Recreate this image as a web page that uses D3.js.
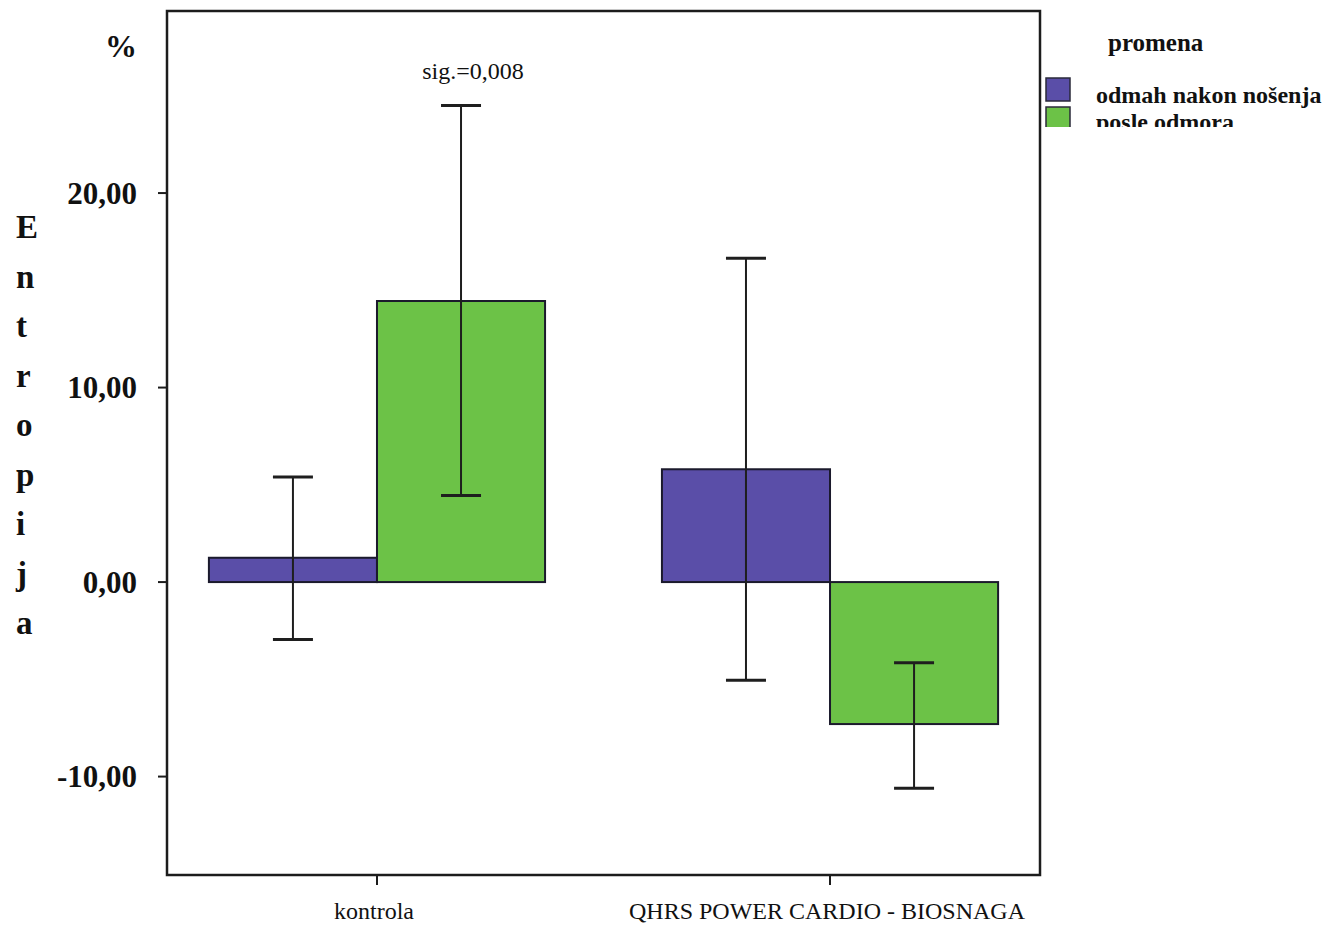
<!DOCTYPE html>
<html>
<head>
<meta charset="utf-8">
<script src="https://cdn.jsdelivr.net/npm/d3@7/dist/d3.min.js"></script>
<style>
  html, body { margin: 0; padding: 0; background: #fff; }
  svg { display: block; }
  text { font-family: "Liberation Serif", "Times New Roman", serif; fill: #111; }
</style>
</head>
<body>
<svg id="chart" width="1338" height="926"></svg>
<script>
// Group labels along the x axis
const categories = ["kontrola", "QHRS POWER CARDIO - BIOSNAGA"];
// Legend entries (measurement moment)
const seriesNames = ["odmah nakon nošenja", "posle odmora"];
const seriesColors = ["#5a4ea8", "#6cc247"];

// Mean change of entropy (%) per group, per measurement moment
const meanImmediate = [1.25, 5.8];
const meanAfterRest = [14.45, -7.3];

// 95% confidence interval bounds
const ciLowImmediate = [-2.95, -5.05];
const ciHighImmediate = [5.4, 16.65];
const ciLowAfterRest = [4.45, -10.6];
const ciHighAfterRest = [24.5, -4.15];

// Value axis
const yTicks = [-10, 0, 10, 20];
const yTickLabels = ["-10,00", "0,00", "10,00", "20,00"];
const yDomain = [-15.06, 29.36];

const sigLabel = "sig.=0,008";
const axisTitle = "Entropija";
const unitLabel = "%";
const legendTitle = "promena";

// ---- layout ----
const svg = d3.select("#chart");
const plot = { left: 167, right: 1040, top: 11, bottom: 875 };

const y = d3.scaleLinear().domain(yDomain).range([plot.bottom, plot.top]);
const x0 = d3.scaleBand().domain(categories)
  .range([plot.left, plot.right])
  .paddingInner(0.258).paddingOuter(0.0925);
const x1 = d3.scaleBand().domain(seriesNames).range([0, x0.bandwidth()]).padding(0);

const rows = [];
categories.forEach((c, i) => {
  rows.push({ cat: c, series: seriesNames[0], color: seriesColors[0], v: meanImmediate[i], lo: ciLowImmediate[i], hi: ciHighImmediate[i] });
  rows.push({ cat: c, series: seriesNames[1], color: seriesColors[1], v: meanAfterRest[i], lo: ciLowAfterRest[i], hi: ciHighAfterRest[i] });
});

// bars
svg.append("g").selectAll("rect").data(rows).join("rect")
  .attr("x", d => x0(d.cat) + x1(d.series))
  .attr("y", d => Math.min(y(d.v), y(0)))
  .attr("width", x1.bandwidth())
  .attr("height", d => Math.abs(y(d.v) - y(0)))
  .attr("fill", d => d.color)
  .attr("stroke", "#1b1a2c")
  .attr("stroke-width", 2);

// error bars
const capHalf = 20;
const eb = svg.append("g").attr("stroke", "#1e1e1e");
rows.forEach(d => {
  const cx = x0(d.cat) + x1(d.series) + x1.bandwidth() / 2;
  eb.append("line").attr("x1", cx).attr("x2", cx).attr("y1", y(d.hi)).attr("y2", y(d.lo)).attr("stroke-width", 2);
  eb.append("line").attr("x1", cx - capHalf).attr("x2", cx + capHalf).attr("y1", y(d.hi)).attr("y2", y(d.hi)).attr("stroke-width", 3);
  eb.append("line").attr("x1", cx - capHalf).attr("x2", cx + capHalf).attr("y1", y(d.lo)).attr("y2", y(d.lo)).attr("stroke-width", 3);
});

// frame
svg.append("rect")
  .attr("x", plot.left).attr("y", plot.top)
  .attr("width", plot.right - plot.left).attr("height", plot.bottom - plot.top)
  .attr("fill", "none").attr("stroke", "#1c1c1c").attr("stroke-width", 2.5);

// y axis ticks and labels
const yAxis = svg.append("g");
yTicks.forEach((t, i) => {
  yAxis.append("line").attr("x1", plot.left - 9).attr("x2", plot.left)
    .attr("y1", y(t)).attr("y2", y(t)).attr("stroke", "#1c1c1c").attr("stroke-width", 2);
  yAxis.append("text").attr("x", 137).attr("y", y(t)).attr("dy", "0.35em")
    .attr("text-anchor", "end").attr("font-size", 31).attr("font-weight", "bold")
    .text(yTickLabels[i]);
});

// x axis ticks and labels
const xAxis = svg.append("g");
categories.forEach(c => {
  const cx = x0(c) + x0.bandwidth() / 2;
  xAxis.append("line").attr("x1", cx).attr("x2", cx)
    .attr("y1", plot.bottom).attr("y2", plot.bottom + 10)
    .attr("stroke", "#1c1c1c").attr("stroke-width", 2);
  xAxis.append("text").attr("x", cx - 3).attr("y", 919)
    .attr("text-anchor", "middle").attr("font-size", 24)
    .text(c);
});

// unit and vertical axis title
svg.append("text").attr("x", 121).attr("y", 57).attr("text-anchor", "middle")
  .attr("font-size", 32).attr("font-weight", "bold").text(unitLabel);
svg.append("g").selectAll("text").data(axisTitle.split("")).join("text")
  .attr("x", 16).attr("y", (d, i) => 238 + i * 49.5)
  .attr("font-size", 33).attr("font-weight", "bold")
  .text(d => d);

// significance note
svg.append("text").attr("x", 473).attr("y", 79).attr("text-anchor", "middle")
  .attr("font-size", 24).text(sigLabel);

// legend
svg.append("text").attr("x", 1108).attr("y", 51)
  .attr("font-size", 25).attr("font-weight", "bold").text(legendTitle);
svg.append("defs").append("clipPath").attr("id", "legendClip")
  .append("rect").attr("x", 1040).attr("y", 60).attr("width", 298).attr("height", 67);
const lg = svg.append("g").attr("clip-path", "url(#legendClip)");
seriesNames.forEach((s, i) => {
  lg.append("rect").attr("x", 1046).attr("y", 78 + i * 29).attr("width", 24).attr("height", 23)
    .attr("fill", seriesColors[i]).attr("stroke", "#2a2a3a").attr("stroke-width", 1.5);
  lg.append("text").attr("x", 1096).attr("y", 103 + i * 27)
    .attr("font-size", 24).attr("font-weight", "bold").text(s);
});
</script>
</body>
</html>
